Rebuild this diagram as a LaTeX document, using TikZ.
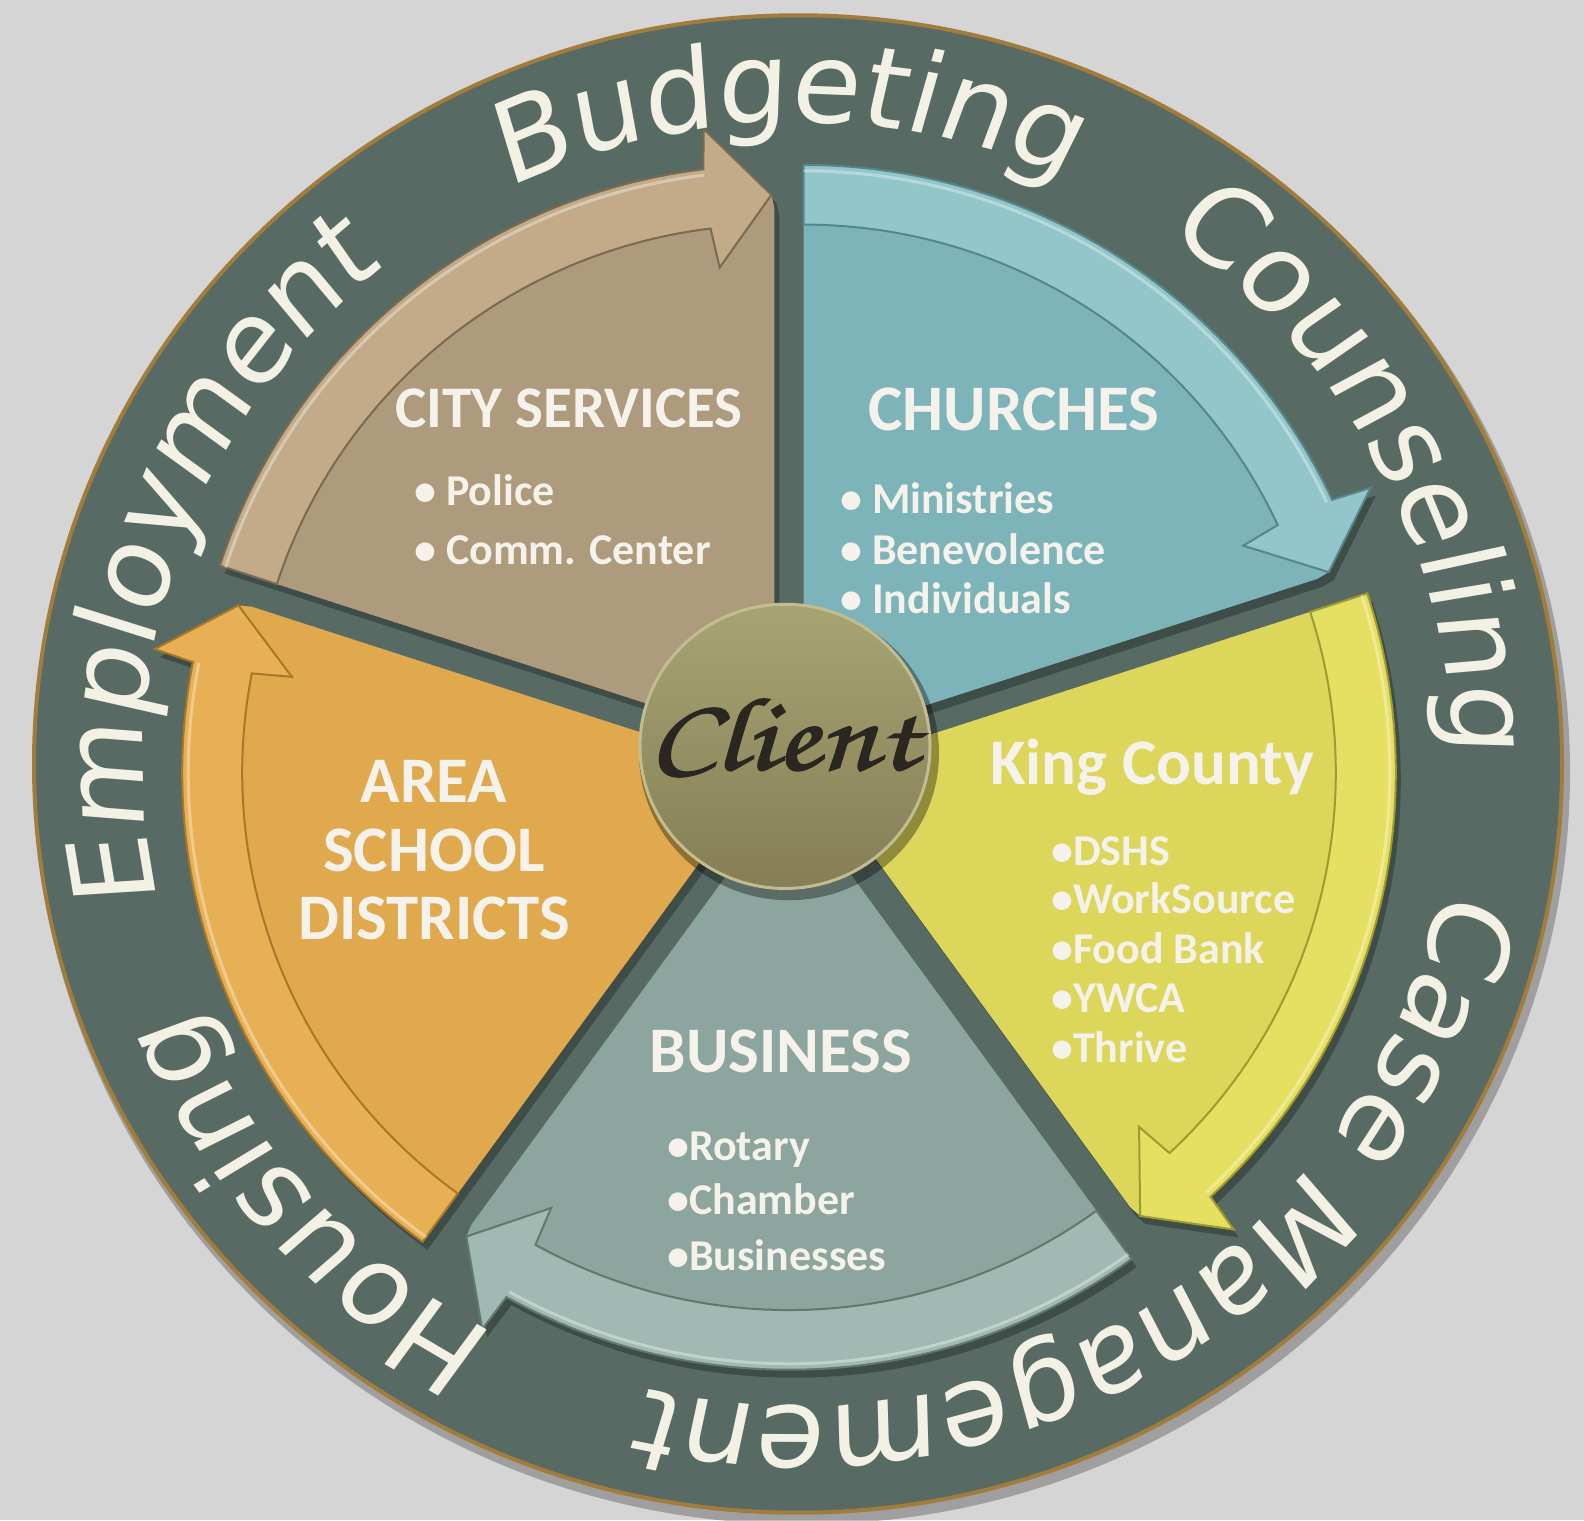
\documentclass[tikz,border=0pt]{standalone}
\usepackage{fontspec}
\setmainfont{Carlito}
\newfontfamily\ringfont[FakeSlant=0.1]{DejaVu Sans}
\IfFontExistsTF{texgyrechorus-mediumitalic.otf}
  {\newfontfamily\clientfont[FakeBold=1.5]{texgyrechorus-mediumitalic.otf}}
  {\newfontfamily\clientfont{lmroman10-italic.otf}}
\usetikzlibrary{decorations.text,calc}
\definecolor{bgc}{HTML}{D4D5D4}
\definecolor{ringc}{HTML}{576B64}
\definecolor{ringedge}{HTML}{A27C3A}
\definecolor{cityBody}{HTML}{AE9A7C}
\definecolor{cityBand}{HTML}{C3AB89}
\definecolor{cityLine}{HTML}{7A6A52}
\definecolor{churchBody}{HTML}{7DB4B9}
\definecolor{churchBand}{HTML}{92C6CA}
\definecolor{churchLine}{HTML}{55868A}
\definecolor{kingBody}{HTML}{DCD65A}
\definecolor{kingBand}{HTML}{E5DF62}
\definecolor{kingLine}{HTML}{A09B30}
\definecolor{busBody}{HTML}{8CA59E}
\definecolor{busBand}{HTML}{A0B9B2}
\definecolor{busLine}{HTML}{62786F}
\definecolor{areaBody}{HTML}{E0A94E}
\definecolor{areaBand}{HTML}{E8B055}
\definecolor{areaLine}{HTML}{A87828}
\definecolor{clientTop}{HTML}{A7A473}
\definecolor{clientBot}{HTML}{857E56}
\definecolor{clientEdge}{HTML}{C2BD90}
\definecolor{clientTxt}{HTML}{2A2620}
\definecolor{txtc}{HTML}{F4F2EA}
\definecolor{ringtxt}{HTML}{F3F0E4}
\newcommand\ringtext{\ringfont\fontsize{112}{112}\selectfont}
\newcommand\mySecShadow[3]{%
  \begin{scope}[shift={(#1:25)}]
   \begin{scope}[shift={(5,-8)}]
    \fill[black,opacity=.28] (0,0) -- (#2:583) arc[start angle=#2, end angle={#3+7}, radius=583] -- ({#3+6.5}:623) -- ({#3+0.3}:553) -- (#3:540) -- cycle;
   \end{scope}
  \end{scope}}
\newcommand\mySector[6]{%
  \begin{scope}[shift={(#1:25)}]
    \fill[#4] (0,0) -- (#2:583) arc[start angle=#2, end angle={#3+7}, radius=583] -- ({#3+6.5}:623) -- ({#3+0.3}:553) -- (#3:540) -- cycle;
    \fill[#5, draw=#6, line width=2] (#2:523) -- (#2:583) arc[start angle=#2, end angle={#3+7}, radius=583] -- ({#3+6.5}:623) -- ({#3+0.3}:553) -- ({#3+6.5}:483) -- ({#3+7}:523) arc[start angle={#3+7}, end angle=#2, radius=523] -- cycle;
    \draw[white, opacity=.35, line width=3] (#2:577) arc[start angle=#2, end angle={#3+7}, radius=577];
  \end{scope}}
\newcommand\ringword[2]{%
  \path[decorate, decoration={text along path, text={|\ringtext|#2}, text align=center, text color=ringtxt}] ({#1+80}:655) arc[start angle={#1+80}, end angle={#1-80}, radius=655];}
\tikzset{
  headtxt/.style={font=\bfseries\fontsize{59}{59}\selectfont, text=txtc, inner sep=0, anchor=base},
  bigtxt/.style={font=\bfseries\fontsize{65}{65}\selectfont, text=txtc, inner sep=0, anchor=base},
  itemtxt/.style={font=\bfseries\fontsize{44}{44}\selectfont, text=txtc, inner sep=0, anchor=base west},
}
\begin{document}
\begin{tikzpicture}[x=1pt,y=1pt]
\useasboundingbox (0,0) rectangle (1584,1520);
\fill[bgc] (0,0) rectangle (1584,1520);
\begin{scope}[shift={(798,756)}, yscale=0.98]
  \fill[black, opacity=.25] (4,-8) circle (768);
  \fill[ringc, draw=ringedge, line width=4] (0,0) circle (764);
  \begin{scope}[shift={(-9,-1)}, yscale=1.015]
    \mySecShadow{126}{162}{90}
    \mySecShadow{54}{90}{18}
    \mySecShadow{-18}{18}{-54}
    \mySecShadow{-90}{-54}{-126}
    \mySecShadow{198}{234}{162}
    \mySector{126}{162}{90}{cityBody}{cityBand}{cityLine}
    \mySector{54}{90}{18}{churchBody}{churchBand}{churchLine}
    \mySector{-18}{18}{-54}{kingBody}{kingBand}{kingLine}
    \mySector{-90}{-54}{-126}{busBody}{busBand}{busLine}
    \mySector{198}{234}{162}{areaBody}{areaBand}{areaLine}
  \end{scope}
  \fill[black,opacity=.35] (-9,11) circle (150);
  \shadedraw[top color=clientTop, bottom color=clientBot, draw=clientEdge, line width=3] (-13,18) circle (145);
  \ringword{91}{Budgeting}
  \ringword{28}{Counseling}
  \ringword{-57}{Case Management}
  \ringword{222}{Housing}
  \ringword{161}{Employment}
\end{scope}
\node (client) [font=\clientfont\fontsize{104}{104}\selectfont, text=clientTxt, xscale=1.22, inner sep=0] at (783,782) {Client};
\node[headtxt] (city) at (569,1092) {CITY SERVICES};
\node[itemtxt] (police) at (414,1014) {• Police};
\node[itemtxt] (comm) at (414,955) {• Comm. Center};
\node[bigtxt] (church) at (1014,1089) {CHURCHES};
\node[itemtxt] (min) at (840,1006) {• Ministries};
\node[itemtxt] (ben) at (840,955) {• Benevolence};
\node[itemtxt] (ind) at (840,906) {• Individuals};
\node[bigtxt] (king) at (1152,735) {King County};
\node[itemtxt] (dshs) at (1051,654) {•DSHS};
\node[itemtxt] (work) at (1051,606) {•WorkSource};
\node[itemtxt] (food) at (1051,556) {•Food Bank};
\node[itemtxt] (ywca) at (1051,507) {•YWCA};
\node[itemtxt] (thrive) at (1051,457) {•Thrive};
\node[bigtxt] (area) at (434,717) {AREA};
\node[bigtxt] (school) at (434,648) {SCHOOL};
\node[bigtxt] (dist) at (434,580) {DISTRICTS};
\node[bigtxt] (bus) at (781,447) {BUSINESS};
\node[itemtxt] (rot) at (667,359) {•Rotary};
\node[itemtxt] (cham) at (667,305) {•Chamber};
\node[itemtxt] (busi) at (667,249) {•Businesses};
\end{tikzpicture}
\end{document}
